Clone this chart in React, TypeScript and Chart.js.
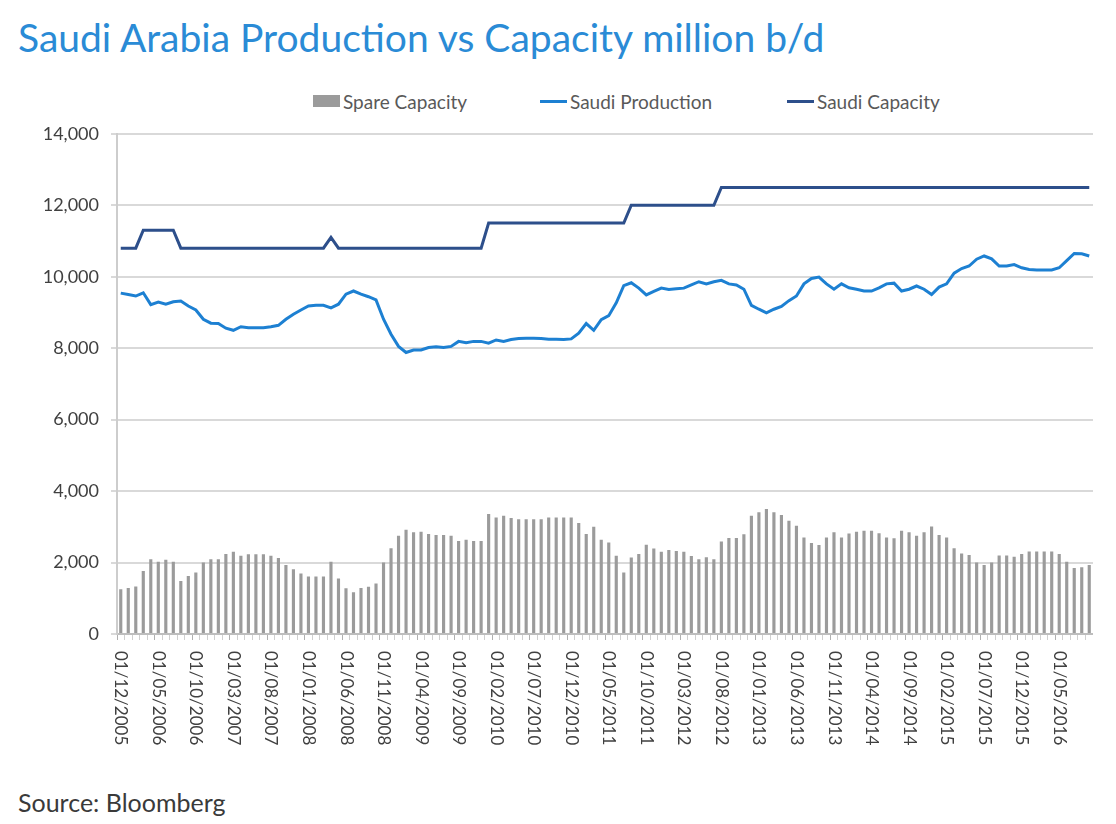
import React, { useEffect, useRef } from "react";
import { Chart, registerables } from "chart.js";

Chart.register(...registerables);

// Monthly points, first of each month, December 2005 through September 2016
const startYear = 2005;
const startMonth = 12;
const monthCount = 130;

const months: string[] = [];
for (let i = 0; i < monthCount; i++) {
  const m = ((startMonth - 1 + i) % 12) + 1;
  const y = startYear + Math.floor((startMonth - 1 + i) / 12);
  months.push(`01/${String(m).padStart(2, "0")}/${y}`);
}

// Labels shown under the axis (every fifth month)
const tickLabels = [
  "01/12/2005", "01/05/2006", "01/10/2006", "01/03/2007", "01/08/2007",
  "01/01/2008", "01/06/2008", "01/11/2008", "01/04/2009", "01/09/2009",
  "01/02/2010", "01/07/2010", "01/12/2010", "01/05/2011", "01/10/2011",
  "01/03/2012", "01/08/2012", "01/01/2013", "01/06/2013", "01/11/2013",
  "01/04/2014", "01/09/2014", "01/02/2015", "01/07/2015", "01/12/2015",
  "01/05/2016",
];

const yTicks = [0, 2000, 4000, 6000, 8000, 10000, 12000, 14000];

// Spare capacity, thousand b/d
const spareCapacity = [
  1250, 1290, 1330, 1760, 2090, 2020, 2080, 2020, 1480, 1620,
  1720, 2000, 2090, 2090, 2240, 2300, 2190, 2230, 2230, 2230,
  2190, 2130, 1930, 1810, 1690, 1610, 1610, 1610, 2020, 1550,
  1280, 1170, 1290, 1320, 1410, 2000, 2400, 2750, 2920, 2850,
  2860, 2800, 2770, 2770, 2750, 2600, 2640, 2600, 2600, 3360,
  3260, 3310, 3250, 3210, 3210, 3210, 3210, 3260, 3260, 3260,
  3260, 3110, 2800, 3000, 2640, 2560, 2190, 1720, 2140, 2240,
  2500, 2390, 2300, 2350, 2320, 2300, 2180, 2090, 2150, 2090,
  2590, 2690, 2690, 2790, 3310, 3410, 3500, 3410, 3330, 3170,
  3030, 2700, 2550, 2490, 2700, 2850, 2700, 2810, 2860, 2890,
  2890, 2820, 2700, 2680, 2890, 2850, 2750, 2850, 3010, 2770,
  2700, 2400, 2250, 2210, 2000, 1930, 2000, 2200, 2200, 2160,
  2240, 2310, 2310, 2310, 2310, 2240, 2020, 1850, 1870, 1930,
];

// Saudi crude production, thousand b/d
const saudiProduction = [
  9540, 9500, 9460, 9550, 9220, 9290, 9230, 9300, 9320, 9180,
  9070, 8810, 8700, 8690, 8560, 8500, 8600, 8570, 8570, 8570,
  8600, 8640, 8810, 8950, 9070, 9180, 9200, 9200, 9130, 9230,
  9510, 9600, 9510, 9440, 9350, 8810, 8390, 8050, 7880, 7950,
  7950, 8020, 8040, 8020, 8050, 8190, 8150, 8190, 8190, 8140,
  8230, 8190, 8240, 8270, 8280, 8280, 8270, 8250, 8250, 8240,
  8260, 8420, 8690, 8500, 8800, 8910, 9270, 9750, 9830, 9680,
  9490, 9590, 9680, 9640, 9660, 9680, 9770, 9860, 9800, 9860,
  9900, 9800, 9770, 9650, 9200, 9090, 8990, 9090, 9170, 9330,
  9460, 9800, 9950, 9990, 9800, 9650, 9800, 9690, 9650, 9600,
  9600, 9690, 9800, 9820, 9600, 9650, 9740, 9650, 9500, 9710,
  9800, 10100, 10230, 10300, 10490, 10580, 10500, 10300, 10300, 10340,
  10250, 10200, 10190, 10190, 10190, 10250, 10450, 10650, 10640, 10580,
];

// Saudi production capacity, thousand b/d
const saudiCapacity = [
  10800, 10800, 10800, 11300, 11300, 11300, 11300, 11300, 10800, 10800,
  10800, 10800, 10800, 10800, 10800, 10800, 10800, 10800, 10800, 10800,
  10800, 10800, 10800, 10800, 10800, 10800, 10800, 10800, 11100, 10800,
  10800, 10800, 10800, 10800, 10800, 10800, 10800, 10800, 10800, 10800,
  10800, 10800, 10800, 10800, 10800, 10800, 10800, 10800, 10800, 11500,
  11500, 11500, 11500, 11500, 11500, 11500, 11500, 11500, 11500, 11500,
  11500, 11500, 11500, 11500, 11500, 11500, 11500, 11500, 12000, 12000,
  12000, 12000, 12000, 12000, 12000, 12000, 12000, 12000, 12000, 12000,
  12500, 12500, 12500, 12500, 12500, 12500, 12500, 12500, 12500, 12500,
  12500, 12500, 12500, 12500, 12500, 12500, 12500, 12500, 12500, 12500,
  12500, 12500, 12500, 12500, 12500, 12500, 12500, 12500, 12500, 12500,
  12500, 12500, 12500, 12500, 12500, 12500, 12500, 12500, 12500, 12500,
  12500, 12500, 12500, 12500, 12500, 12500, 12500, 12500, 12500, 12500,
];

const FONT = "Lato, 'Open Sans', sans-serif";
const BAR_COLOR = "#9b9b9b";
const PROD_COLOR = "#1d80d2";
const CAP_COLOR = "#2d4f8b";
const TEXT_COLOR = "#404040";

// Draws the month labels under the x axis, turned a quarter clockwise
const verticalMonthLabels = {
  id: "verticalMonthLabels",
  afterDraw(chart: any) {
    const xs = chart.scales.x;
    const ctx = chart.ctx;
    const wanted = new Set(tickLabels);
    ctx.save();
    ctx.font = `17px ${FONT}`;
    ctx.fillStyle = TEXT_COLOR;
    ctx.textAlign = "left";
    ctx.textBaseline = "middle";
    months.forEach((label, i) => {
      if (!wanted.has(label)) return;
      const px = xs.getPixelForValue(i);
      ctx.save();
      ctx.translate(px, xs.top + 17);
      ctx.rotate(Math.PI / 2);
      ctx.fillText(label, 0, 0);
      ctx.restore();
    });
    ctx.restore();
  },
};

function LegendItem(props: { kind: "box" | "line"; color: string; label: string; left: number }) {
  const { kind, color, label, left } = props;
  return (
    <div
      style={{
        position: "absolute",
        left,
        top: 82,
        height: 22,
        display: "flex",
        alignItems: "center",
        whiteSpace: "nowrap",
      }}
    >
      <span
        style={{
          display: "inline-block",
          width: 27,
          height: kind === "box" ? 12 : 3,
          background: color,
          marginRight: 3,
        }}
      />
      <span style={{ font: `19px ${FONT}`, color: "#595959" }}>{label}</span>
    </div>
  );
}

export default function App() {
  const canvasRef = useRef<HTMLCanvasElement | null>(null);

  useEffect(() => {
    let chart: Chart | null = null;
    let cancelled = false;
    const build = () => {
      if (cancelled || !canvasRef.current) return;
      chart = new Chart(canvasRef.current, {
        type: "bar",
        data: {
          labels: months,
          datasets: [
            {
              type: "bar",
              label: "Spare Capacity",
              data: spareCapacity,
              backgroundColor: BAR_COLOR,
              barPercentage: 0.42,
              categoryPercentage: 1,
              order: 3,
            },
            {
              type: "line",
              label: "Saudi Production",
              data: saudiProduction,
              borderColor: PROD_COLOR,
              borderWidth: 3,
              pointRadius: 0,
              tension: 0,
              order: 1,
            },
            {
              type: "line",
              label: "Saudi Capacity",
              data: saudiCapacity,
              borderColor: CAP_COLOR,
              borderWidth: 3,
              pointRadius: 0,
              tension: 0,
              order: 2,
            },
          ],
        },
        options: {
          responsive: false,
          animation: false,
          layout: { padding: { top: 6, left: 0, right: 0, bottom: 0 } },
          plugins: {
            legend: { display: false },
            tooltip: { enabled: false },
          },
          scales: {
            x: {
              type: "category",
              offset: true,
              grid: {
                offset: true,
                drawOnChartArea: false,
                drawTicks: true,
                tickLength: 6,
                color: (c: any) => (c.index % 5 === 0 ? "#b0b0b0" : "#d0d0d0"),
                lineWidth: 1,
              },
              border: { display: true, color: "#bdbdbd", width: 2 },
              ticks: { display: false, autoSkip: false },
              afterFit: (s: any) => {
                s.height = 136;
              },
            },
            y: {
              min: 0,
              max: 14000,
              afterBuildTicks: (s: any) => {
                s.ticks = yTicks.map((v) => ({ value: v }));
              },
              ticks: {
                font: { family: FONT, size: 18 },
                color: TEXT_COLOR,
                padding: 12,
                callback: (v: any) => Number(v).toLocaleString("en-US"),
              },
              grid: {
                color: "#d9d9d9",
                lineWidth: 2,
                tickLength: 6,
                drawTicks: true,
              },
              border: { display: true, color: "#cdcdcd", width: 2 },
              afterFit: (s: any) => {
                s.width = 109;
              },
            },
          },
        },
        plugins: [verticalMonthLabels],
      });
    };
    const fontsReady = (document as any).fonts
      ? Promise.all([
          (document as any).fonts.load(`18px Lato`),
          (document as any).fonts.load(`39px Lato`),
        ]).catch(() => undefined)
      : Promise.resolve();
    fontsReady.then(build);
    return () => {
      cancelled = true;
      if (chart) chart.destroy();
    };
  }, []);

  return (
    <div style={{ position: "relative", width: 1100, height: 808, background: "#ffffff" }}>
      <div
        style={{
          position: "absolute",
          left: 10,
          top: 6,
          font: `39px ${FONT}`,
          color: "#2a8bd6",
          whiteSpace: "nowrap",
        }}
      >
        Saudi Arabia Production vs Capacity million b/d
      </div>
      <LegendItem kind="box" color={BAR_COLOR} label="Spare Capacity" left={305} />
      <LegendItem kind="line" color={PROD_COLOR} label="Saudi Production" left={532} />
      <LegendItem kind="line" color={CAP_COLOR} label="Saudi Capacity" left={779} />
      <canvas
        ref={canvasRef}
        width={1085}
        height={659}
        style={{ position: "absolute", left: 0, top: 103, width: 1085, height: 659 }}
      />
      <div
        style={{
          position: "absolute",
          left: 10,
          top: 779,
          font: `25px ${FONT}`,
          color: "#3a3a3a",
          whiteSpace: "nowrap",
        }}
      >
        Source: Bloomberg
      </div>
    </div>
  );
}
